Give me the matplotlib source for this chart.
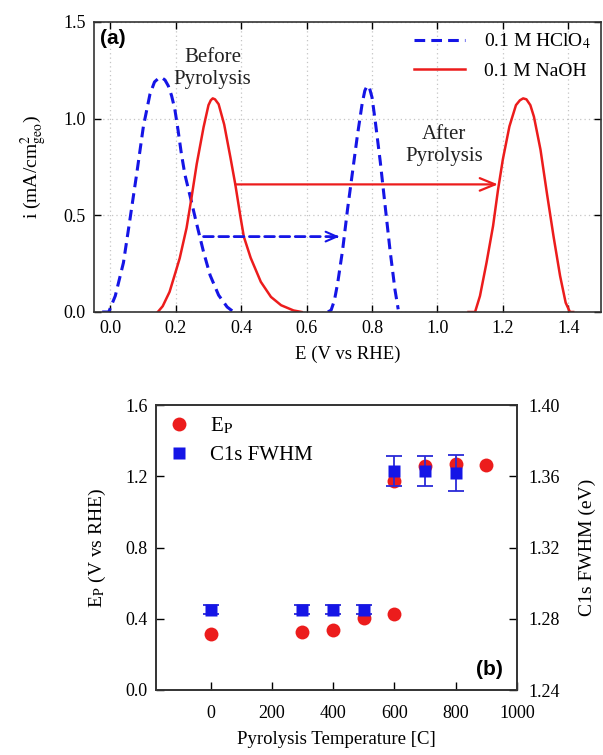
import matplotlib
matplotlib.use("Agg")
import matplotlib.pyplot as plt

plt.rcParams["font.family"] = ["Liberation Serif", "DejaVu Serif"]
plt.rcParams["mathtext.fontset"] = "stix"

BLUE, RED = "#1515e6", "#ec1c1c"

# (a) voltammetry peaks
e_hclo4_before = [-0.025, -0.005, 0.015, 0.04, 0.06, 0.081, 0.101, 0.121, 0.135, 0.148, 0.157, 0.167,
                  0.177, 0.187, 0.197, 0.207, 0.217, 0.228, 0.238, 0.248, 0.259, 0.269, 0.285,
                  0.305, 0.331, 0.357, 0.377]
i_hclo4_before = [0, 0, 0.083, 0.255, 0.48, 0.72, 0.96, 1.126, 1.19, 1.21, 1.212, 1.20,
                  1.17, 1.12, 1.05, 0.94, 0.82, 0.71, 0.64, 0.57, 0.49, 0.42, 0.31,
                  0.19, 0.087, 0.026, 0]
e_naoh_before = [0.145, 0.16, 0.181, 0.2, 0.212, 0.233, 0.248, 0.264, 0.285, 0.30, 0.307, 0.313,
                 0.32, 0.331, 0.348, 0.367, 0.382, 0.398, 0.408, 0.429, 0.46, 0.491, 0.522, 0.56,
                 0.585]
i_naoh_before = [0, 0.03, 0.104, 0.21, 0.278, 0.435, 0.59, 0.765, 0.956, 1.07, 1.095, 1.105,
                 1.10, 1.075, 0.97, 0.80, 0.66, 0.49, 0.39, 0.28, 0.156, 0.078, 0.035, 0.008,
                 0]
e_hclo4_after = [0.665, 0.675, 0.685, 0.695, 0.71, 0.725, 0.74, 0.755, 0.77, 0.778, 0.785,
                 0.792, 0.80, 0.81, 0.825, 0.84, 0.855, 0.87, 0.88]
i_hclo4_after = [0, 0.01, 0.06, 0.15, 0.32, 0.53, 0.72, 0.91, 1.08, 1.145, 1.17,
                 1.16, 1.11, 0.985, 0.78, 0.55, 0.32, 0.117, 0.014]
e_naoh_after = [1.095, 1.115, 1.13, 1.15, 1.17, 1.185, 1.20, 1.22, 1.24, 1.252, 1.262, 1.272,
                1.284, 1.295, 1.315, 1.335, 1.355, 1.375, 1.392, 1.405, 1.415]
i_naoh_after = [0, 0, 0.083, 0.255, 0.445, 0.63, 0.79, 0.96, 1.07, 1.095, 1.105, 1.10,
                1.07, 1.01, 0.84, 0.61, 0.39, 0.186, 0.048, 0, 0]

# shift arrows (start E, end E, height)
arrow_naoh = (0.382, 1.185, 0.66)
arrow_hclo4 = (0.285, 0.70, 0.39)

# (b) peak potential and C1s FWHM vs pyrolysis temperature
temp_ep = [0, 300, 400, 500, 600, 600, 700, 800, 900]
ep = [0.313, 0.324, 0.337, 0.405, 0.428, 1.176, 1.26, 1.27, 1.265]
temp_fw = [0, 300, 400, 500, 600, 700, 800]
fwhm = [1.285, 1.285, 1.285, 1.285, 1.363, 1.363, 1.362]
fwhm_err = [0.0025, 0.0025, 0.0025, 0.0025, 0.0084, 0.0084, 0.010]

W, H = 603, 755
fig = plt.figure(figsize=(W / 100, H / 100), dpi=100)

# ---- panel (a)
ax = fig.add_axes([94 / W, 1 - 312 / H, (601 - 94) / W, (312 - 22) / H])
ax.plot(e_hclo4_before, i_hclo4_before, color=BLUE, lw=2.2, dashes=(3.5, 2), label=r"0.1 M HClO$_4$")
ax.plot(e_naoh_before, i_naoh_before, color=RED, lw=1.8, label="0.1 M NaOH")
ax.plot(e_hclo4_after, i_hclo4_after, color=BLUE, lw=2.2, dashes=(3.5, 2))
ax.plot(e_naoh_after, i_naoh_after, color=RED, lw=1.8)

x0, x1, yy = arrow_naoh
ax.annotate("", xy=(x1, yy), xytext=(x0, yy),
            arrowprops=dict(arrowstyle="->,head_length=1.1,head_width=0.45", color=RED, lw=1.6,
                            shrinkA=0, shrinkB=0, mutation_scale=10))
x0, x1, yy = arrow_hclo4
ax.annotate("", xy=(x1, yy), xytext=(x0, yy),
            arrowprops=dict(arrowstyle="-", color=BLUE, lw=2, ls=(0, (3.5, 2)),
                            shrinkA=0, shrinkB=0))
ax.annotate("", xy=(x1, yy), xytext=(x1 - 0.01, yy),
            arrowprops=dict(arrowstyle="->,head_length=0.8,head_width=0.35", color=BLUE, lw=1.5,
                            shrinkA=0, shrinkB=0, mutation_scale=10))

ax.text(0.313, 1.26, "Before\nPyrolysis", ha="center", va="center", fontsize=15, color="#222222",
        linespacing=1.2)
ax.text(1.02, 0.86, "After\nPyrolysis", ha="center", va="center", fontsize=15, color="#222222",
        linespacing=1.2)
ax.text(0.012, 0.975, "(a)", transform=ax.transAxes, ha="left", va="top", fontsize=15,
        fontweight="bold", family=["Liberation Sans", "DejaVu Sans"])

ax.set_xlim(-0.05, 1.5)
ax.set_ylim(0, 1.5)
ax.set_xticks([0.0, 0.2, 0.4, 0.6, 0.8, 1.0, 1.2, 1.4])
ax.set_yticks([0.0, 0.5, 1.0, 1.5])
ax.xaxis.set_major_formatter(matplotlib.ticker.FormatStrFormatter("%.1f"))
ax.yaxis.set_major_formatter(matplotlib.ticker.FormatStrFormatter("%.1f"))
ax.tick_params(direction="in", top=True, right=True, length=5, width=1, labelsize=13, pad=6)
ax.grid(True, color="#c4c4c4", lw=0.9, ls=(0, (1, 2.5)))
ax.set_xlabel("E (V vs RHE)", fontsize=13.5, labelpad=6)
ax.set_ylabel(r"i (mA/cm$^{2}_{\rm geo}$)", fontsize=14, labelpad=10)
for s in ax.spines.values():
    s.set_linewidth(1.2)
    s.set_color("#333333")
ax.legend(loc="upper right", frameon=False, fontsize=14, handlelength=2.6, handletextpad=1.0,
          labelspacing=0.55, borderaxespad=0.2, borderpad=0.3)

# ---- panel (b)
axb = fig.add_axes([156 / W, 1 - 690 / H, (517 - 156) / W, (690 - 405) / H])
hep, = axb.plot(temp_ep, ep, "o", color=RED, ms=10, mec="none")
axb.set_xlim(-178, 1000)
axb.set_ylim(0, 1.6)
axb.set_xticks([0, 200, 400, 600, 800, 1000])
axb.set_yticks([0.0, 0.4, 0.8, 1.2, 1.6])
axb.yaxis.set_major_formatter(matplotlib.ticker.FormatStrFormatter("%.1f"))
axb.tick_params(direction="in", length=6, width=1, labelsize=13, pad=6)
axb.tick_params(axis="x", pad=11)
axb.set_xlabel("Pyrolysis Temperature [C]", fontsize=13.5, labelpad=6)
axb.set_ylabel(r"E$_{\rm P}$ (V vs RHE)", fontsize=14, labelpad=12)

axr = axb.twinx()
hfw = axr.errorbar(temp_fw, fwhm, yerr=fwhm_err, fmt="s", color=BLUE, ms=8.5, mec="none",
                   ecolor="#2a2ad8", elinewidth=1.3, capsize=6, capthick=1.3)
axr.set_ylim(1.24, 1.40)
axr.set_yticks([1.24, 1.28, 1.32, 1.36, 1.40])
axr.yaxis.set_major_formatter(matplotlib.ticker.FormatStrFormatter("%.2f"))
axr.tick_params(direction="in", length=6, width=1, labelsize=13, pad=8)
axr.set_ylabel("C1s FWHM (eV)", fontsize=14, labelpad=14)
for a in (axb, axr):
    for s in a.spines.values():
        s.set_linewidth(1.2)
        s.set_color("#333333")
axr.legend([hep, hfw[0]], [r"E$_{\rm P}$", "C1s FWHM"], loc="upper left", frameon=False,
           fontsize=15, handletextpad=0.9, labelspacing=0.45, borderaxespad=0.1, handlelength=1.2)
axr.text(0.96, 0.04, "(b)", transform=axb.transAxes, ha="right", va="bottom", fontsize=15,
         fontweight="bold", family=["Liberation Sans", "DejaVu Sans"])

fig.savefig("out.png", dpi=100, facecolor="white")
